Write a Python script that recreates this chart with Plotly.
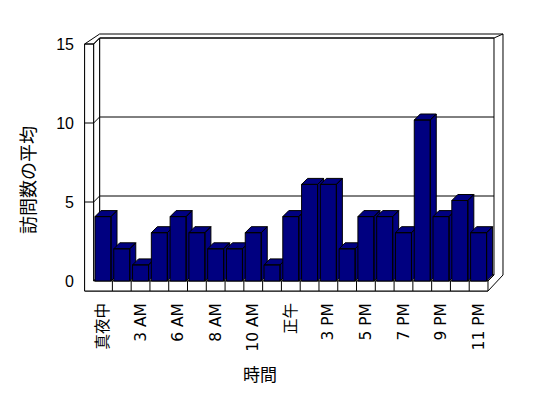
import plotly.graph_objects as go

# ---------------- data ----------------
categories = ["真夜中", "1 AM", "3 AM", "4 AM", "6 AM", "7 AM", "8 AM", "9 AM", "10 AM",
              "11 AM", "正午", "1 PM", "3 PM", "4 PM", "5 PM", "6 PM", "7 PM", "8 PM",
              "9 PM", "10 PM", "11 PM"]
visits = [4, 2, 1, 3, 4, 3, 2, 2, 3, 1, 4, 6, 6, 2, 4, 4, 3, 10, 4, 5, 3]
y_ticks = [0, 5, 10, 15]
x_title = "時間"
y_title = "訪問数の平均"

# ---------------- geometry (layout only) ----------------
W, H = 548, 398
P = 18.78          # px per category
S = 16.1           # px per value unit (bar front plane)
CX0 = 103.0        # px of category 0 centre
VY0 = 281.0        # px of value 0 (front)
BOX_L, BOX_R, BOX_T, BOX_B = 80, 506, 30, 293

xr = [(BOX_L - CX0) / P, (BOX_R - CX0) / P]
yr = [(VY0 - BOX_B) / S, (VY0 - BOX_T) / S]

n = len(categories)
XL, XR = -0.5, n - 0.5
tw = 9 / P          # left wall thickness
fv = 10 / S         # floor thickness
dxc = 6 / P         # depth offset x
dyv = 6 / S         # depth offset y
K = 15.8 / S        # wall tick scale relative to bars
vt = 15 * K
ox = 9 / P
oy = 4 / S
bw = 16 / P         # bar width

NAVY = "#000080"
FONT = "Liberation Sans, Arial, Noto Sans CJK JP, sans-serif"
XFONT = "DejaVu Sans, Noto Sans CJK JP, sans-serif"

fig = go.Figure()

# dummy trace so the label axis exists
fig.add_trace(go.Scatter(x=[0], y=[0], yaxis="y2", mode="markers",
                         marker=dict(size=1, opacity=0), hoverinfo="skip", showlegend=False))

for i, v in enumerate(visits):
    l, r = i - bw / 2, i + bw / 2
    xs = [r, r + dxc, r + dxc, r, r, None,
          l, l + dxc, r + dxc, r, l, None,
          l, l, r, r, l]
    ys = [0, dyv, v + dyv, v, 0, None,
          v, v + dyv, v + dyv, v, v, None,
          0, v, v, 0, 0]
    fig.add_trace(go.Scatter(x=xs, y=ys, mode="lines", fill="toself",
                             fillcolor=NAVY, line=dict(color="black", width=1),
                             hoverinfo="skip", showlegend=False))

def path(pts, close=True):
    s = "M " + " L ".join(f"{x},{y}" for x, y in pts)
    return s + (" Z" if close else "")

line = dict(color="black", width=1)
shapes = []
# outer contour
shapes.append(dict(type="path", layer="below", fillcolor="white", line=line,
                   path=path([(XL - tw, -fv), (XL - tw, vt), (XL + dxc, vt + dyv + oy),
                              (XR + dxc + ox, vt + dyv + oy), (XR + dxc + ox, dyv), (XR, -fv)])))
# back wall face
shapes.append(dict(type="path", layer="below", fillcolor="white", line=line,
                   path=path([(XL + dxc, dyv), (XL + dxc, vt + dyv), (XR + dxc, vt + dyv), (XR + dxc, dyv)])))
# left wall inner face
shapes.append(dict(type="path", layer="below", fillcolor="white", line=line,
                   path=path([(XL, 0), (XL, vt), (XL + dxc, vt + dyv), (XL + dxc, dyv)])))
# floor top
shapes.append(dict(type="path", layer="below", fillcolor="white", line=line,
                   path=path([(XL, 0), (XR, 0), (XR + dxc, dyv), (XL + dxc, dyv)])))
# front L face
shapes.append(dict(type="path", layer="below", fillcolor="white", line=line,
                   path=path([(XL - tw, vt), (XL, vt), (XL, 0), (XR, 0), (XR, -fv), (XL - tw, -fv)])))
# top right diagonal
shapes.append(dict(type="path", layer="below", line=line,
                   path=path([(XR + dxc, vt + dyv), (XR + dxc + ox, vt + dyv + oy)], close=False)))
# gridlines
for g in y_ticks[1:]:
    gv = g * K
    shapes.append(dict(type="path", layer="below", line=line,
                       path=path([(XL - tw, gv), (XL, gv), (XL + dxc, gv + dyv), (XR + dxc, gv + dyv)], close=False)))
# floor dividers
for b in range(n - 1):
    shapes.append(dict(type="line", layer="below", line=line,
                       x0=b + 0.5, x1=b + 0.5, y0=0, y1=-fv))

for s in shapes:
    s.setdefault("xref", "x")
    s.setdefault("yref", "y")

fig.update_layout(
    width=W, height=H, autosize=False,
    margin=dict(l=0, r=0, t=0, b=0),
    paper_bgcolor="white", plot_bgcolor="white",
    showlegend=False,
    hovermode=False,
    font=dict(family=FONT, color="black"),
    shapes=shapes,
    xaxis=dict(domain=[BOX_L / W, BOX_R / W], range=xr, showgrid=False, zeroline=False,
               showline=False, ticks="", tickmode="array",
               tickvals=list(range(0, n, 2)), ticktext=[categories[i] for i in range(0, n, 2)],
               tickangle=-90, tickfont=dict(size=15.5, family=XFONT, color="black"),
               ticklabelstandoff=6, fixedrange=True),
    yaxis=dict(domain=[1 - BOX_B / H, 1 - BOX_T / H], range=yr, showgrid=False, zeroline=False,
               showline=False, showticklabels=False, ticks="", fixedrange=True),
    yaxis2=dict(overlaying="y", anchor="free", position=84 / W, side="left",
                range=[yr[0] / K, yr[1] / K], tickmode="array", tickvals=y_ticks,
                showgrid=False, zeroline=False, showline=False, ticks="",
                tickfont=dict(size=16, family=FONT, color="black"),
                ticklabelstandoff=10, fixedrange=True),
    annotations=[
        dict(text=y_title, x=29 / W, y=1 - 180 / H, xref="paper", yref="paper",
             textangle=-90, showarrow=False, font=dict(size=18, family=FONT),
             xanchor="center", yanchor="middle"),
        dict(text=x_title, x=260 / W, y=1 - 375 / H, xref="paper", yref="paper",
             showarrow=False, font=dict(size=17, family=FONT),
             xanchor="center", yanchor="middle"),
    ],
)

fig.write_html("out.html", config={"displayModeBar": False, "staticPlot": True},
               post_script="document.body.style.margin='0px';")
